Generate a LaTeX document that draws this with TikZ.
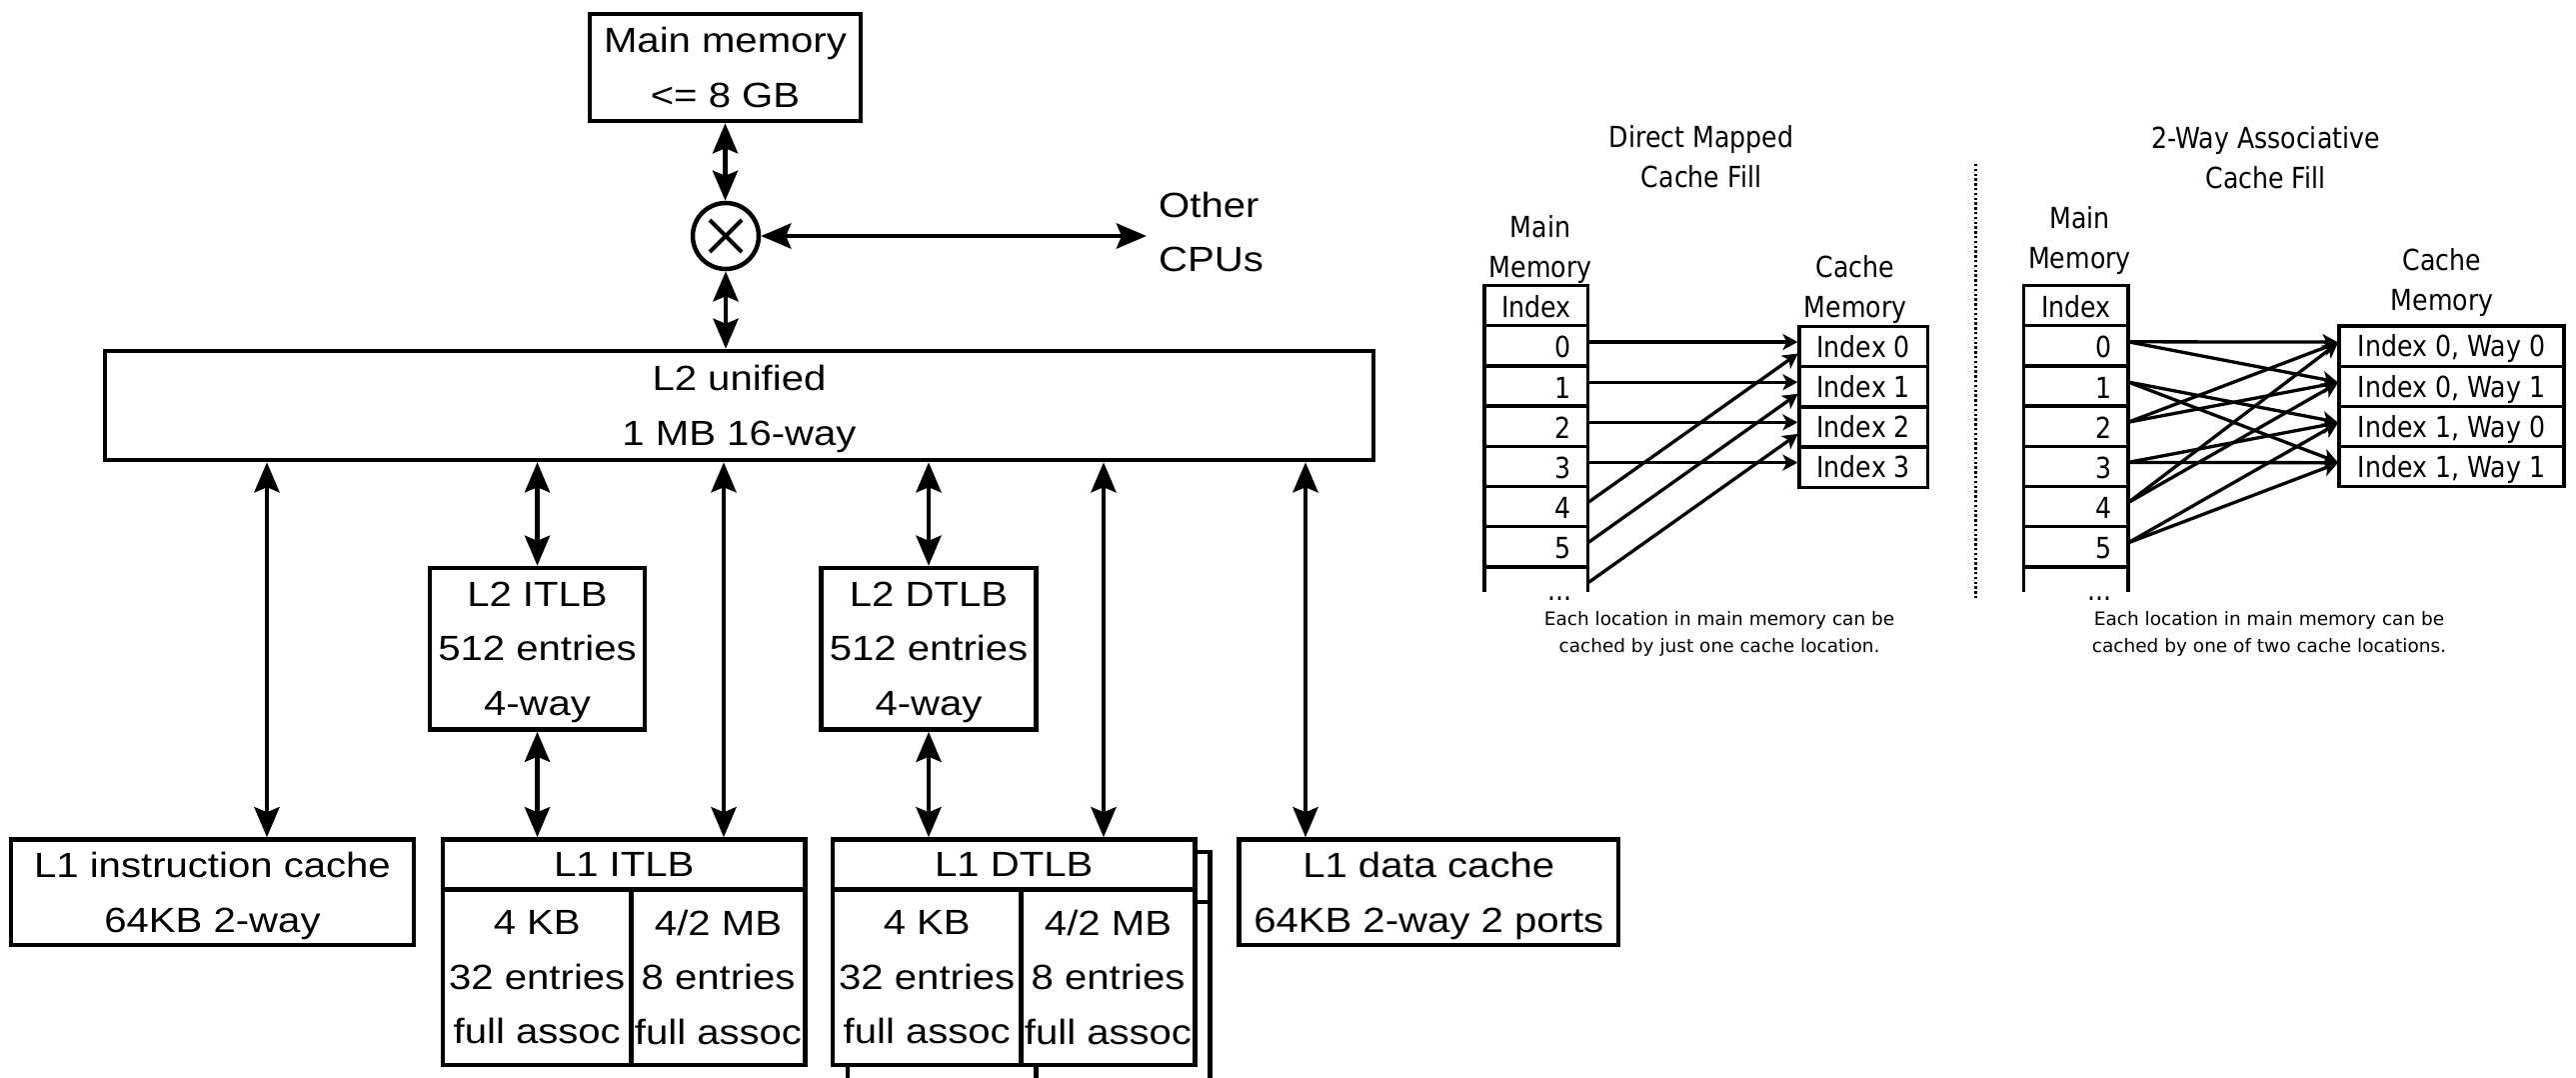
\documentclass[tikz,border=0pt]{standalone}
\usepackage{fontspec}
\setmainfont{Liberation Sans}[FakeStretch=1.146]
\newfontfamily\cachefont{DejaVu Sans}[FakeStretch=0.87]
\newfontfamily\capfont{DejaVu Sans}
\usetikzlibrary{arrows.meta}
\newcommand\mlines[2]{\parbox[b]{#1}{\centering #2}}
\newcommand\mlinesl[2]{\parbox[b]{#1}{\raggedright #2}}
\tikzset{
  bigfont/.style={font=\fontsize{35}{54.5}\selectfont},
  box/.style={draw, line width=4.5pt, fill=white, inner sep=0pt, text depth=0pt, bigfont},
  bus/.style={line width=4.8pt, {Stealth[length=30pt,width=25pt,inset=5pt]}-{Stealth[length=30pt,width=25pt,inset=5pt]}},
  cfont/.style={font=\cachefont\fontsize{29}{40}\selectfont},
  tcell/.style={draw, line width=3.3pt, inner sep=0pt, outer sep=0pt, minimum height=40.2pt, text depth=0pt, cfont},
  lab/.style={inner sep=0pt, text depth=0pt, cfont},
  caplab/.style={inner sep=0pt, text depth=0pt, font=\capfont\fontsize{18.5}{27}\selectfont},
  small/.style={line width=3.3pt, shorten >=1.6pt, -{Stealth[length=15pt,width=16pt,inset=4pt]}},
}
\begin{document}
\begin{tikzpicture}[x=1pt,y=-1pt]
\useasboundingbox (0,0) rectangle (2577,1078);
\fill[white] (0,0) rectangle (2577,1078);
\clip (0,0) rectangle (2577,1078);

% ---------------- main hierarchy ----------------
\node[box, minimum width=271pt, minimum height=107pt] (MM) at (725.5,67.5) {\mlines{271pt}{Main memory\\<= 8 GB}};
\node[draw, circle, line width=4.5pt, minimum size=66pt, inner sep=0pt] (X) at (726,236) {};
\draw[line width=4pt] ([shift={(-16,-16)}]X.center) -- ([shift={(16,16)}]X.center)
  ([shift={(-16,16)}]X.center) -- ([shift={(16,-16)}]X.center);
\node[anchor=west, inner xsep=12pt, inner ysep=0pt, text depth=0pt, bigfont] (OC) at (1147,232) {\mlinesl{110pt}{Other\\CPUs}};

\node[box, minimum width=1269pt, minimum height=109pt] (L2) at (739.5,405.5) {\mlines{1269pt}{L2 unified\\1 MB 16-way}};
\node[box, minimum width=215pt, minimum height=161.5pt] (L2I) at (537.5,648.75) {\mlines{215pt}{L2 ITLB\\512 entries\\4-way}};
\node[box, minimum width=215pt, minimum height=161.5pt] (L2D) at (929,648.75) {\mlines{215pt}{L2 DTLB\\512 entries\\4-way}};
\node[box, minimum width=403pt, minimum height=105.5pt] (L1i) at (212.5,892.25) {\mlines{403pt}{L1 instruction cache\\64KB 2-way}};
\node[box, minimum width=379.5pt, minimum height=105.5pt] (L1d) at (1429.25,892.25) {\mlines{379.5pt}{L1 data cache\\64KB 2-way 2 ports}};

% L1 ITLB
\node[box, minimum width=362.5pt, minimum height=50pt] (L1Ih) at (624.25,864.5) {L1 ITLB};
\node[box, minimum width=188.5pt, minimum height=175.5pt] (L1Ia) at (537.25,977.25) {\mlines{188.5pt}{4 KB\\32 entries\\full assoc}};
\node[box, minimum width=174pt, minimum height=175.5pt] (L1Ib) at (718.5,977.25) {\mlines{174pt}{4/2 MB\\8 entries\\full assoc}};

% L1 DTLB (second copy behind)
\node[box, minimum width=362.5pt, minimum height=50pt] (L1Dsh) at (1029.25,877) {};
\node[box, minimum width=188.5pt, minimum height=200pt] (L1Dsa) at (942.25,1002) {};
\node[box, minimum width=174pt, minimum height=200pt] (L1Dsb) at (1123.5,1002) {};
\node[box, minimum width=362.5pt, minimum height=50pt] (L1Dh) at (1014.25,864.5) {L1 DTLB};
\node[box, minimum width=188.5pt, minimum height=175.5pt] (L1Da) at (927.25,977.25) {\mlines{188.5pt}{4 KB\\32 entries\\full assoc}};
\node[box, minimum width=174pt, minimum height=175.5pt] (L1Db) at (1108.5,977.25) {\mlines{174pt}{4/2 MB\\8 entries\\full assoc}};

% connectors
\coordinate (bA) at (267,0);
\coordinate (bB) at (724,0);
\coordinate (bC) at (1104,0);
\coordinate (bD) at (1306,0);
\draw[bus] (MM.south) -- (MM.south |- X.north);
\draw[bus] (X.east) -- (X.east -| OC.west);
\draw[bus] (X.south) -- (X.south |- L2.north);
\draw[bus] (L2.south -| bA) -- (L1i.north -| bA);
\draw[bus] (L2.south -| L2I.north) -- (L2I.north);
\draw[bus] (L2I.south) -- (L2I.south |- L1Ih.north);
\draw[bus] (L2.south -| bB) -- (L1Ih.north -| bB);
\draw[bus] (L2.south -| L2D.north) -- (L2D.north);
\draw[bus] (L2D.south) -- (L2D.south |- L1Dh.north);
\draw[bus] (L2.south -| bC) -- (L1Dh.north -| bC);
\draw[bus] (L2.south -| bD) -- (L1d.north -| bD);

% ---------------- direct mapped ----------------
\node[lab] (ptitle) at (1702,156.5) {\mlines{300pt}{Direct Mapped\\Cache Fill}};
\node[lab] (pmain) at (1541,246.5) {\mlines{150pt}{Main\\Memory}};
\node[lab] (pcache) at (1856,286.5) {\mlines{150pt}{Cache\\Memory}};
\node[tcell, minimum width=103.5pt, text height=23pt] (ph) at (1536.75,305.6) {Index};
\foreach \k in {0,...,5}
  \node[tcell, minimum width=103.5pt, inner xsep=16.5pt, text height=24pt] (pa\k) at (1536.75,{345.8+40.2*\k}) {\makebox[70.5pt][r]{\k}};
\draw[line width=3.3pt] (pa5.south west) -- ++(0,25) (pa5.south east) -- ++(0,25);
\foreach \k in {0,...,3}
  \node[tcell, minimum width=128.5pt, text height=21.5pt] (pc\k) at (1864.25,{346.6+40.2*\k}) {Index \k};
\node[lab, anchor=base east] (pdots) at (1573,600) {...};
\node[caplab] (pcap) at (1720,631.5) {\mlines{420pt}{Each location in main memory can be\\cached by just one cache location.}};
\foreach \k in {0,...,3}
  \draw[small] ([yshift=3.8pt]pa\k.east) -- ([yshift=4.6pt]pc\k.west);
\draw[small] ([yshift=4pt]pa4.east) -- ([yshift=-6pt]pc0.west);
\draw[small] ([yshift=4pt]pa5.east) -- ([yshift=-6pt]pc1.west);
\draw[small] ([yshift=-16pt]pa5.south east) -- ([yshift=-6pt]pc2.west);

\draw[line width=3pt, dash pattern=on 2.4pt off 2.4pt] (1976,164) -- (1976,600);

% ---------------- 2-way associative ----------------
\node[lab] (qtitle) at (2266.5,157) {\mlines{350pt}{2-Way Associative\\Cache Fill}};
\node[lab] (qmain) at (2080.5,237) {\mlines{150pt}{Main\\Memory}};
\node[lab] (qcache) at (2443,279.5) {\mlines{150pt}{Cache\\Memory}};
\node[tcell, minimum width=104.5pt, text height=23pt] (qh) at (2076.75,305.6) {Index};
\foreach \k in {0,...,5}
  \node[tcell, minimum width=104.5pt, inner xsep=16pt, text height=24pt] (qa\k) at (2076.75,{345.8+40.2*\k}) {\makebox[72.5pt][r]{\k}};
\draw[line width=3.3pt] (qa5.south west) -- ++(0,25) (qa5.south east) -- ++(0,25);
\foreach \k/\i/\w in {0/0/0,1/0/1,2/1/0,3/1/1}
  \node[tcell, minimum width=225pt, text height=21.5pt] (qc\k) at (2452.5,{346.1+40.2*\k}) {Index \i, Way \w};
\node[lab, anchor=base east] (qdots) at (2113,600) {...};
\node[caplab] (qcap) at (2270,631.5) {\mlines{420pt}{Each location in main memory can be\\cached by one of two cache locations.}};
\foreach \a/\b in {0/0,0/1,1/2,1/3,2/0,2/1,3/2,3/3,4/0,4/1,5/2,5/3}
  \draw[small] ([yshift=4pt]qa\a.east) -- ([yshift=4pt]qc\b.west);
\end{tikzpicture}
\end{document}
